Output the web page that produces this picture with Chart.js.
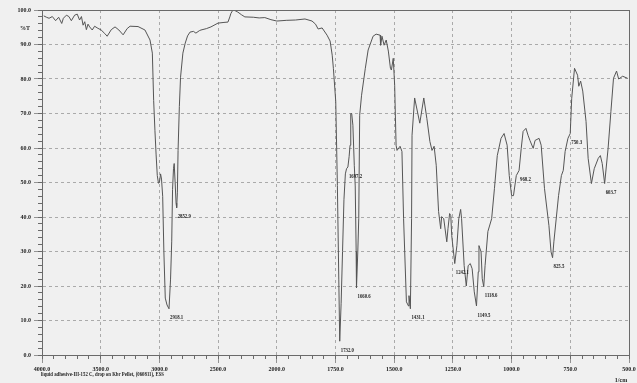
<!DOCTYPE html>
<html>
<head>
<meta charset="utf-8">
<script src="https://cdn.jsdelivr.net/npm/chart.js@4.4.1/dist/chart.umd.min.js"></script>
<style>
  html, body { margin: 0; padding: 0; background: #f0f0f0; }
</style>
</head>
<body>
<canvas id="ir" width="637" height="383"></canvas>
<script>
// IR spectrum - liquid adhesive on KBr pellet
// x axis is expanded 2x below 2000 cm-1, like the instrument printout

// spectrum trace (cm-1, %T)
const wavenumbers = [
  3985, 3962, 3940, 3912, 3884, 3858, 3832, 3818, 3792, 3771,
  3750, 3722, 3700, 3680, 3664, 3650, 3636, 3622, 3608, 3594,
  3572, 3552, 3524, 3496, 3466, 3445, 3410, 3378, 3345, 3309,
  3275, 3250, 3182, 3123, 3080, 3060, 3049, 3038, 3028, 3018,
  3008, 3000, 2990, 2982, 2972, 2962, 2950, 2935, 2918.1, 2905,
  2895, 2888, 2880, 2874, 2866, 2858, 2852.9, 2847, 2841, 2830,
  2820, 2800, 2780, 2760, 2739, 2710, 2689, 2660, 2646, 2600,
  2561, 2501, 2450, 2416, 2400, 2391, 2374, 2355, 2332, 2300,
  2272, 2200, 2150, 2102, 2050, 2000, 1960, 1920, 1880, 1850,
  1835, 1824, 1807, 1786, 1773, 1764, 1759, 1749, 1742, 1736,
  1732.0, 1726, 1720, 1714, 1708, 1703, 1697.2, 1692, 1688, 1685,
  1681, 1676, 1670, 1666, 1662, 1660.6, 1655, 1651, 1647, 1639,
  1623, 1611, 1590, 1577, 1560, 1558, 1552, 1543, 1534, 1525,
  1516, 1512, 1504, 1498, 1492, 1488, 1475, 1467, 1460, 1448,
  1439, 1437, 1431.1, 1426, 1424, 1413, 1391, 1374, 1361, 1348,
  1339, 1330, 1321, 1311, 1302, 1298, 1289, 1276, 1271, 1264,
  1259, 1255, 1242.1, 1233, 1225, 1217, 1213, 1202, 1193, 1185,
  1176, 1168, 1159, 1149.5, 1142, 1139, 1130, 1125, 1118.6, 1113,
  1101, 1085, 1073, 1061, 1045, 1032, 1019, 1010, 1000, 992,
  980, 968.2, 959, 951, 939, 930, 922, 908, 900, 883,
  874, 860, 841, 832, 825.5, 820, 800, 788, 780, 772,
  760, 750.3, 744, 732, 719, 714, 706, 697, 683, 674,
  660, 648, 631, 622, 614, 603.7, 589, 577, 566, 553,
  544, 527, 506
];
const transmittance = [
  98.3, 97.9, 97.6, 98.1, 96.9, 97.9, 96.1, 97.6, 98.5, 98.1,
  96.9, 98.5, 98.8, 97.1, 98.1, 95.6, 96.6, 94.3, 95.9, 95.1,
  94.2, 95.3, 94.7, 94.2, 93.2, 92.4, 94.3, 95.1, 94.2, 92.8,
  94.6, 95.3, 95.2, 94.2, 91.3, 87.5, 73.8, 65.0, 58.0, 52.0,
  49.8, 50.0, 52.5, 51.0, 46.0, 30.0, 16.5, 14.5, 13.4, 22.0,
  33.0, 48.0, 54.0, 55.5, 50.0, 44.0, 42.7, 47.0, 59.3, 72.0,
  80.5, 87.5, 90.4, 92.5, 93.6, 93.8, 93.3, 94.0, 94.2, 94.6,
  95.1, 96.2, 96.4, 96.5, 98.0, 99.0, 100.0, 99.8, 99.4, 98.6,
  98.0, 97.9, 97.7, 97.8, 97.2, 96.8, 97.0, 97.1, 97.4, 96.8,
  95.9, 94.5, 94.8, 92.7, 91.0, 86.9, 83.1, 73.5, 49.1, 22.0,
  4.0, 15.0, 30.0, 45.0, 52.5, 54.0, 54.5, 57.5, 60.8, 70.0,
  70.0, 66.6, 55.0, 49.0, 30.0, 19.5, 30.0, 39.5, 69.5, 75.3,
  83.1, 88.4, 92.4, 93.0, 92.7, 89.8, 92.4, 89.8, 91.3, 88.1,
  83.1, 82.6, 86.0, 78.2, 60.8, 59.3, 60.5, 59.0, 39.5, 15.4,
  14.2, 17.2, 13.4, 39.5, 63.7, 74.5, 67.2, 74.5, 68.6, 61.9,
  59.3, 60.5, 55.0, 41.6, 36.6, 40.1, 39.5, 32.8, 36.6, 41.0,
  40.4, 34.6, 26.5, 31.7, 39.5, 42.2, 39.5, 25.9, 20.0, 25.9,
  26.5, 25.0, 18.3, 14.2, 24.1, 31.7, 29.9, 22.1, 19.8, 25.9,
  35.8, 39.5, 48.3, 57.8, 62.8, 64.2, 60.8, 52.0, 46.2, 46.2,
  52.0, 53.5, 59.9, 64.8, 65.7, 63.7, 62.2, 59.9, 62.2, 62.8,
  60.8, 48.3, 37.5, 29.9, 28.2, 32.8, 46.2, 52.0, 53.5, 59.0,
  62.8, 64.2, 74.4, 83.1, 81.1, 77.9, 79.4, 76.5, 67.7, 57.0,
  49.7, 54.0, 57.0, 57.8, 55.5, 49.7, 59.9, 70.6, 80.2, 82.3,
  80.0, 80.8, 80.2
];

// picked peaks printed on the chart
const peakWavenumbers = [2918.1, 2852.9, 1732.0, 1697.2, 1660.6, 1431.1, 1242.1, 1149.5, 1118.6, 968.2, 825.5, 750.3, 603.7];

// axis ticks
const xMajorTicks = [4000, 3500, 3000, 2500, 2000, 1750, 1500, 1250, 1000, 750, 500];
const X_MIN = 500, X_MAX = 4000, X_BREAK = 2000;
const xMinorTicks = [];
for (let w = X_MAX; w > X_BREAK; w -= 100) xMinorTicks.push(w);
for (let w = X_BREAK; w >= X_MIN; w -= 50) xMinorTicks.push(w);

const caption = 'liquid adhesive-III-152 C, drop on Kbr Pellet, (060811), ESS';

// above 2000 the scale is compressed by 2
function expand(w) { return w > X_BREAK ? X_BREAK + (w - X_BREAK) / 2 : w; }
function unexpand(u) { return u > X_BREAK ? X_BREAK + (u - X_BREAK) * 2 : u; }

class WavenumberScale extends Chart.LinearScale {
  determineDataLimits() {
    this.min = expand(X_MIN);
    this.max = expand(X_MAX);
  }
  buildTicks() {
    const list = this.id === 'x' ? xMajorTicks : xMinorTicks;
    return list.map(v => ({ value: v }));
  }
  getPixelForValue(v) {
    return super.getPixelForValue(expand(v));
  }
  getValueForPixel(p) {
    return unexpand(super.getValueForPixel(p));
  }
}
WavenumberScale.id = 'wavenumber';
WavenumberScale.defaults = Chart.LinearScale.defaults;
Chart.register(WavenumberScale);

const TEXT = '#1e1e1e';
const FRAME = '#6a6a6a';
const tickFont = { family: 'Liberation Serif', size: 6, weight: 'bold' };

const printoutPlugin = {
  id: 'printout',
  beforeDraw(chart) {
    const ctx = chart.ctx;
    ctx.save();
    ctx.fillStyle = '#f0f0f0';
    ctx.fillRect(0, 0, chart.width, chart.height);
    ctx.restore();
  },
  afterDatasetsDraw(chart) {
    const { ctx, scales: { x, y } } = chart;
    ctx.save();
    ctx.fillStyle = TEXT;
    ctx.font = 'bold 6px "Liberation Serif"';
    ctx.textBaseline = 'middle';
    peakWavenumbers.forEach(w => {
      const t = transmittance[wavenumbers.indexOf(w)];
      ctx.save();
      ctx.translate(x.getPixelForValue(w) + 1, y.getPixelForValue(t) + 9);
      ctx.scale(0.8, 1);
      ctx.fillText(w.toFixed(1), 0, 0);
      ctx.restore();
    });
    ctx.restore();
  },
  afterDraw(chart) {
    const { ctx, chartArea: a } = chart;
    ctx.save();
    ctx.strokeStyle = FRAME;
    ctx.lineWidth = 1;
    ctx.strokeRect(a.left + 0.5, a.top + 0.5, a.right - a.left, a.bottom - a.top);
    ctx.fillStyle = TEXT;
    ctx.font = 'bold 6px "Liberation Serif"';
    ctx.textBaseline = 'middle';
    ctx.textAlign = 'right';
    ctx.fillText('%T', a.left - 12, a.top + 18);
    ctx.textAlign = 'left';
    ctx.save();
    ctx.translate(a.left - 1, a.bottom + 19);
    ctx.scale(0.8, 1);
    ctx.fillText(caption, 0, 0);
    ctx.restore();
    ctx.textAlign = 'center';
    ctx.fillText('1/cm', a.right - 8, a.bottom + 25);
    ctx.restore();
  }
};

new Chart(document.getElementById('ir'), {
  type: 'line',
  data: {
    datasets: [{
      data: wavenumbers.map((w, i) => ({ x: w, y: transmittance[i] })),
      borderColor: '#555',
      borderWidth: 1,
      pointRadius: 0,
      tension: 0,
      fill: false,
    }],
  },
  options: {
    responsive: false,
    animation: false,
    layout: { padding: { top: 10, right: 8, left: 0, bottom: 0 } },
    plugins: { legend: { display: false }, tooltip: { enabled: false } },
    scales: {
      x: {
        type: 'wavenumber',
        position: 'bottom',
        reverse: true,
        weight: 1,
        grid: { color: '#8c8c8c', lineWidth: 0.7, tickLength: 8, tickColor: FRAME },
        border: { display: true, color: FRAME, dash: [3, 3] },
        ticks: {
          font: tickFont, color: TEXT, padding: 3, maxRotation: 0, autoSkip: false,
          callback: v => v.toFixed(1),
        },
        afterFit: s => { s.height = 28; s.paddingLeft = 0; s.paddingRight = 0; },
      },
      xMinor: {
        type: 'wavenumber',
        axis: 'x',
        position: 'bottom',
        reverse: true,
        weight: 0,
        grid: { drawOnChartArea: false, tickLength: 4, tickColor: FRAME },
        border: { display: false },
        ticks: { display: false },
        afterFit: s => { s.height = 0; s.paddingLeft = 0; s.paddingRight = 0; },
      },
      y: {
        type: 'linear',
        position: 'left',
        min: 0,
        max: 100,
        weight: 1,
        grid: { color: '#8c8c8c', lineWidth: 0.7, tickLength: 8, tickColor: FRAME },
        border: { display: true, color: FRAME, dash: [3, 3] },
        ticks: {
          stepSize: 10, font: tickFont, color: TEXT, padding: 3, autoSkip: false,
          callback: v => v.toFixed(1),
        },
        afterFit: s => { s.width = 42; s.paddingTop = 0; s.paddingBottom = 0; },
      },
      yMinor: {
        type: 'linear',
        axis: 'y',
        position: 'left',
        min: 0,
        max: 100,
        weight: 0,
        grid: { drawOnChartArea: false, tickLength: 4, tickColor: FRAME },
        border: { display: false },
        ticks: { display: false, stepSize: 2, maxTicksLimit: 60 },
        afterFit: s => { s.width = 0; s.paddingTop = 0; s.paddingBottom = 0; },
      },
    },
  },
  plugins: [printoutPlugin],
});
</script>
</body>
</html>
